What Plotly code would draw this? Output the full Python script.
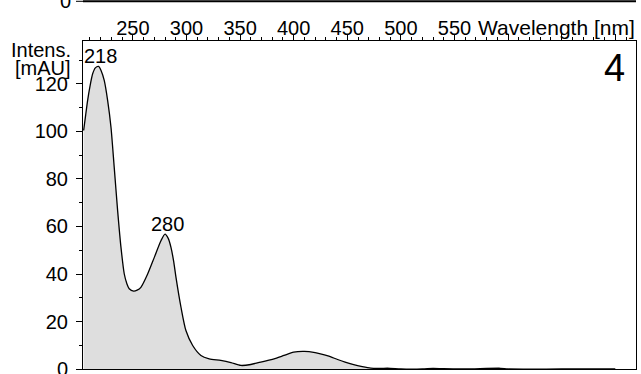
import plotly.graph_objects as go

# UV spectrum, trace 4
wavelength_nm = [204.1, 206.0, 207.8, 210.0, 212.5, 215.0, 218.0, 220.5, 223.3, 226.5,
                 229.6, 232.6, 235.8, 238.9, 242.0, 244.5, 246.6, 250.7, 254.0, 257.5,
                 263.8, 270.0, 276.2, 280.0, 283.0, 285.5, 288.0, 290.2, 294.9, 299.5,
                 305.8, 313.5, 321.2, 332.0, 341.5, 350.8, 360.0, 368.0, 376.0, 384.0,
                 391.0, 400.0, 410.0, 420.0, 425.0, 432.0, 441.0, 448.0, 456.0, 464.0,
                 472.0, 480.0, 490.0, 500.0, 520.0, 530.0, 540.0, 560.0, 593.0, 600.0,
                 650.0, 700.0]
absorbance_mau = [100.4, 107.0, 113.0, 119.0, 124.3, 126.8, 127.4, 125.5, 121.5, 113.0,
                  101.8, 85.0, 66.7, 51.3, 40.0, 35.8, 33.8, 32.8, 33.2, 34.4,
                  40.0, 47.0, 54.0, 56.8, 55.0, 51.3, 45.5, 38.7, 26.0, 16.2,
                  9.9, 5.7, 4.3, 3.6, 2.7, 1.5, 1.9, 2.8, 3.6, 4.6,
                  5.7, 7.1, 7.4, 6.9, 6.4, 5.5, 4.0, 2.9, 1.8, 1.0,
                  0.4, 0.3, 0.3, 0.0, 0.0, 0.3, 0.1, 0.0, 0.3, 0.0,
                  0.0, 0.0]

peak_wavelengths = [218, 280]
peak_values = [127.4, 56.8]

x_major = [250, 300, 350, 400, 450, 500, 550, 600, 650, 700]
x_labels = ["250", "300", "350", "400", "450", "500", "550", "", "", ""]
y_major = [0, 20, 40, 60, 80, 100, 120]

FONT = "Liberation Sans, Arial, sans-serif"
W, H = 641, 374
ML, MR, MT, MB = 83, 5, 41, 5
PW, PH = W - ML - MR, H - MT - MB


def px_x(px):
    return (px - ML) / PW


def px_y(py):
    return 1 - (py - MT) / PH


fig = go.Figure()
fig.add_trace(go.Scatter(
    x=wavelength_nm, y=absorbance_mau, mode="lines",
    line=dict(color="black", width=1.3, shape="spline", smoothing=0.7),
    fill="tozeroy", fillcolor="#dedede", hoverinfo="skip", showlegend=False,
))

annotations = []
for wl, val in zip(peak_wavelengths, peak_values):
    annotations.append(dict(x=wl, y=val, xref="x", yref="y", text=str(wl),
                            showarrow=False, xanchor="center", yanchor="bottom",
                            xshift=2, yshift=-3, font=dict(size=20)))

annotations += [
    dict(x=px_x(73), y=px_y(50), xref="paper", yref="paper", text="Intens.",
         showarrow=False, xanchor="right", yanchor="middle", font=dict(size=20)),
    dict(x=px_x(73), y=px_y(68), xref="paper", yref="paper", text="[mAU]",
         showarrow=False, xanchor="right", yanchor="middle", font=dict(size=20)),
    dict(x=px_x(627), y=px_y(68), xref="paper", yref="paper", text="4",
         showarrow=False, xanchor="right", yanchor="middle", font=dict(size=38)),
    dict(x=px_x(637), y=px_y(27.5), xref="paper", yref="paper", text="Wavelength [nm]",
         showarrow=False, xanchor="right", yanchor="middle", font=dict(size=21)),
    dict(x=px_x(73), y=px_y(1), xref="paper", yref="paper", text="0",
         showarrow=False, xanchor="right", yanchor="middle", font=dict(size=20)),
]

# baseline of the panel above
shapes = [
    dict(type="line", xref="paper", yref="paper", x0=0, x1=px_x(636),
         y0=px_y(1.3), y1=px_y(1.3), line=dict(color="black", width=2)),
    dict(type="line", xref="paper", yref="paper", x0=px_x(76), x1=0,
         y0=px_y(1.3), y1=px_y(1.3), line=dict(color="black", width=1)),
]

fig.update_layout(
    width=W, height=H,
    margin=dict(l=ML, r=MR, t=MT, b=MB, pad=0, autoexpand=False),
    paper_bgcolor="white", plot_bgcolor="white",
    font=dict(family=FONT, size=20, color="black"),
    annotations=annotations, shapes=shapes,
    xaxis=dict(
        range=[203.5, 719.3], side="top", showgrid=False, zeroline=False,
        automargin=False,
        showline=True, mirror=True, linecolor="black", linewidth=1,
        ticks="outside", ticklen=6, tickwidth=1, tickcolor="black",
        tickvals=x_major, ticktext=x_labels, ticklabelstandoff=-9,
        ticklabeloverflow="allow",
        minor=dict(dtick=10, tick0=200, ticks="outside", ticklen=3.5,
                   tickcolor="black", showgrid=False),
    ),
    yaxis=dict(
        range=[0, 138.1], showgrid=False, zeroline=False,
        automargin=False,
        showline=True, mirror=True, linecolor="black", linewidth=1,
        ticks="outside", ticklen=6, tickwidth=1, tickcolor="black",
        tickvals=y_major, ticklabelstandoff=4, ticklabeloverflow="allow",
        minor=dict(dtick=10, tick0=0, ticks="outside", ticklen=3.5,
                   tickcolor="black", showgrid=False),
    ),
)

fig.write_html("out.html")
